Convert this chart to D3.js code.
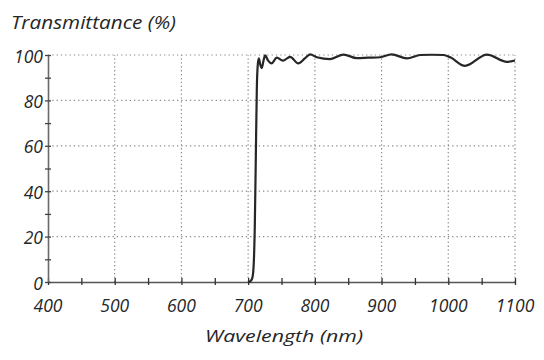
<!DOCTYPE html>
<html><head><meta charset="utf-8">
<script src="https://cdn.jsdelivr.net/npm/d3@7"></script>
<style>
html,body{margin:0;padding:0;background:#fff;}
text{font-family:"Open Sans",Lato,sans-serif;font-style:italic;fill:#262626;}
</style></head>
<body><svg id="c" width="544" height="360"></svg>
<script>
const wavelength = [700,703,706,708,710,711.5,713,714.5,716,718,720.5,723,725.5,730,735,743,752,763,775,785,793,803,823,843,863,880,898,915,938,958,975,993,1003,1025,1058,1088,1100];
const transmittance = [0,0.3,1.5,6,25,55,85,96,98.5,96,94.3,97.5,99.8,97.5,96.3,98.8,97.5,99.2,96.3,98.5,100.3,99,98.2,100.2,98.6,98.8,99,100.3,98.5,100,100.1,100,99,95.2,100.2,97,97.6];
const xTicks = [400,500,600,700,800,900,1000,1100];
const yTicks = [0,20,40,60,80,100];
const xMinor = [450,550,650,750,850,950,1050];
const yMinor = [10,30,50,70,90];

const svg = d3.select("#c");
const x = d3.scaleLinear().domain([400,1100]).range([48,515]);
const y = d3.scaleLinear().domain([0,100]).range([282,55]);

// grid
const g = svg.append("g");
g.selectAll(".vg").data(xTicks.slice(1)).join("line")
  .attr("x1",d=>x(d)).attr("x2",d=>x(d)).attr("y1",y(0)).attr("y2",y(100))
  .attr("stroke","#8a8a8a").attr("stroke-width",1.2).attr("stroke-dasharray","1.3,2.6");
g.selectAll(".hg").data(yTicks.slice(1)).join("line")
  .attr("x1",x(400)).attr("x2",x(1100)).attr("y1",d=>y(d)).attr("y2",d=>y(d))
  .attr("stroke","#8a8a8a").attr("stroke-width",1.2).attr("stroke-dasharray","1.3,3");

// axes
const xAxis = d3.axisBottom(x).tickValues(xTicks.concat(xMinor)).tickSize(0).tickFormat("");
const ax = svg.append("g").attr("transform",`translate(0,${y(0)})`).call(xAxis);
ax.select(".domain").attr("stroke","#555").attr("stroke-width",1.6);
ax.selectAll(".tick").append("line").attr("y1",-4).attr("y2",3).attr("stroke","#333").attr("stroke-width",1.3);
const yAxis = d3.axisLeft(y).tickValues(yTicks.concat(yMinor)).tickSize(0).tickFormat("");
const ay = svg.append("g").attr("transform",`translate(${x(400)},0)`).call(yAxis);
ay.select(".domain").attr("stroke","#6a6a6a").attr("stroke-width",1.6);
ay.selectAll(".tick").append("line").attr("x1",-3).attr("x2",3).attr("stroke","#444").attr("stroke-width",1.3);

// tick labels
svg.selectAll(".xl").data(xTicks).join("text")
  .attr("x",d=>x(d)).attr("y",312).attr("text-anchor","middle")
  .attr("font-size",17.5).text(d=>d);
svg.selectAll(".yl").data(yTicks).join("text")
  .attr("x",43).attr("y",d=>y(d)+7.5).attr("text-anchor","end")
  .attr("font-size",17.5).text(d=>d);

// titles
svg.append("text").attr("x",11).attr("y",28.5).attr("font-size",18.5)
  .attr("textLength",165).attr("lengthAdjust","spacingAndGlyphs").text("Transmittance (%)");
svg.append("text").attr("x",205).attr("y",342).attr("font-size",16.5)
  .attr("textLength",158).attr("lengthAdjust","spacingAndGlyphs").text("Wavelength (nm)");

// curve
const data = wavelength.map((w,i)=>[w,transmittance[i]]);
svg.append("path").datum(data)
  .attr("d",d3.line().x(d=>x(d[0])).y(d=>y(d[1])).curve(d3.curveMonotoneX))
  .attr("fill","none").attr("stroke","#262626").attr("stroke-width",2.2);
</script></body></html>
